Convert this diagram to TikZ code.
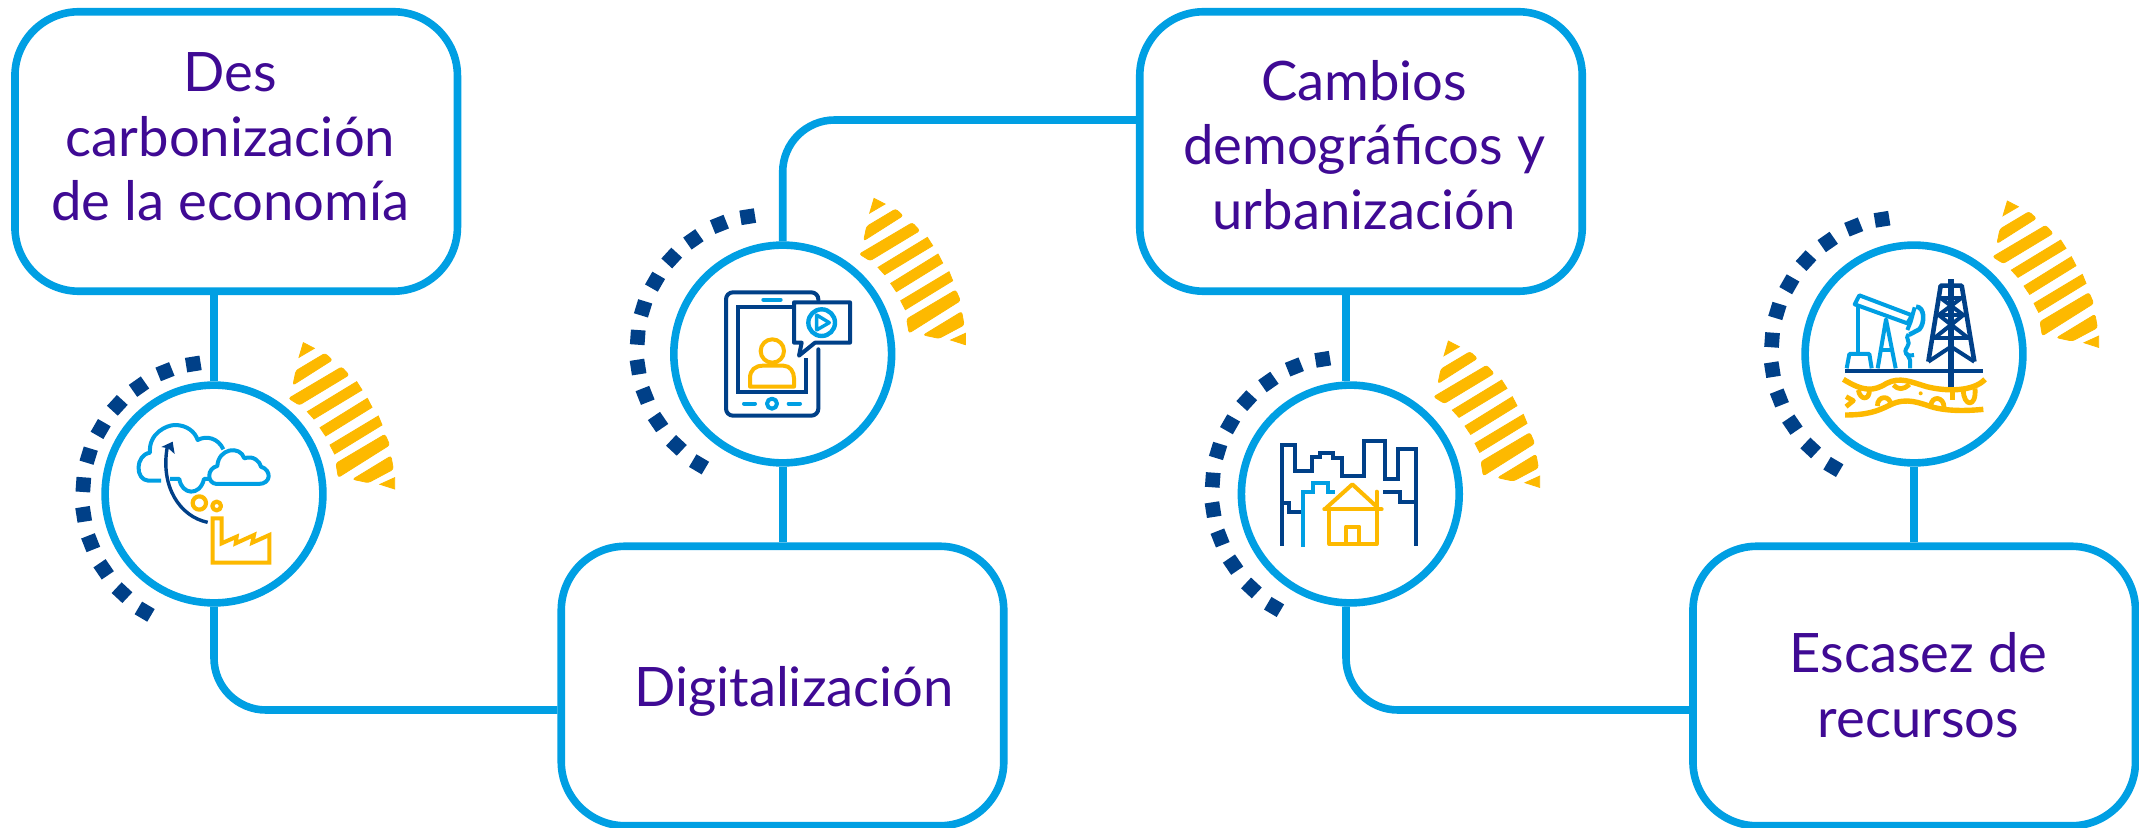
\documentclass[tikz,border=0pt]{standalone}
\usepackage{fontspec}
\setmainfont{Lato}
\definecolor{cblue}{HTML}{009FE3}
\definecolor{cnavy}{HTML}{004088}
\definecolor{cyel}{HTML}{FDB900}
\definecolor{cpur}{HTML}{3F0A94}
\tikzset{
  x=.5pt,y=-.5pt,
  boxn/.style={draw=cblue,line width=3.8pt,rounded corners=32pt,fill=white,minimum width=221.25pt,minimum height=139.75pt,inner sep=0pt},
  circn/.style={draw=cblue,line width=3.8pt,circle,fill=white,minimum size=108.9pt,inner sep=0pt},
  conn/.style={draw=cblue,line width=3.8pt},
  lab/.style={text=cpur,align=center,font=\fontsize{27.2}{32.2}\selectfont,inner sep=0pt},
  ib/.style={draw=cblue,line width=2pt},
  inav/.style={draw=cnavy,line width=2pt},
  iy/.style={draw=cyel,line width=2pt},
  hatchfill/.style={fill=cyel,draw=cyel,line width=.4pt},
}
\newcommand\ringdots[2]{%
  \begin{scope}[shift={(60+#1,330+#2)},scale=1/3]
    \foreach \px/\py in {400/102,315/125,237/170,172/226,122/297,86/377,70/464,71/553,92/638,131/718,186/788,254/845}{
      \pgfmathsetmacro\rr{atan2(\py-492,462-\px)}
      \fill[cnavy,shift={(\px,\py)},rotate=\rr] (-22,-22) rectangle (22,22);
    }
  \end{scope}}
\newcommand\hatchmark[2]{%
  \begin{scope}[shift={(60+#1,330+#2)},scale=1/3]
    \path[hatchfill] (730,38)--(763,55)--(717,82)--cycle;
    \path[hatchfill,rounded corners=1.2pt] (708,122)--(795,70)--(817,90)--(699,165)--cycle;
    \path[hatchfill,rounded corners=1.2pt] (686,205)--(845,111)--(867,135)--(718,225)--cycle;
    \path[hatchfill] (742,245)--(890,155)--(906,180)--(762,267)--cycle;
    \path[hatchfill] (780,293)--(922,205)--(936,232)--(797,318)--cycle;
    \path[hatchfill] (810,345)--(955,258)--(966,285)--(824,372)--cycle;
    \path[hatchfill,rounded corners=1.2pt] (828,400)--(975,313)--(989,345)--(835,442)--cycle;
    \path[hatchfill,rounded corners=1.2pt] (878,448)--(993,378)--(1000,418)--(925,458)--cycle;
    \path[hatchfill] (960,463)--(1004,443)--(1004,477)--cycle;
  \end{scope}}
\begin{document}
\begin{tikzpicture}
\useasboundingbox (0,0) rectangle (2139,828);
\fill[white] (0,0) rectangle (2139,828);
% boxes
\node[boxn] (b1) at (236.2,151.5) {};
\node[boxn] (b2) at (782.5,686) {};
\node[boxn] (b3) at (1361,151.5) {};
\node[boxn] (b4) at (1914.2,686) {};
% circles
\node[circn] (c1) at (214,494) {};
\node[circn] (c2) at (782.7,354) {};
\node[circn] (c3) at (1350.3,494) {};
\node[circn] (c4) at (1914,354) {};
\coordinate (yl) at (0,710);
\coordinate (yu) at (0,120);
\coordinate (j1) at (b2.west |- yl);
\coordinate (j2) at (b3.west |- yu);
\coordinate (j3) at (b4.west |- yl);
\coordinate (t3) at (1346,0);
% connectors
\draw[conn] (c1.north) -- (c1.north |- b1.south);
\draw[conn,rounded corners=26pt] (c1.south) |- (j1);
\draw[conn] (c2.south) -- (c2.south |- b2.north);
\draw[conn,rounded corners=26pt] (c2.north) |- (j2);
\draw[conn] (t3 |- c3.north) -- (t3 |- b3.south);
\draw[conn,rounded corners=26pt] (t3 |- c3.south) |- (j3);
\draw[conn] (c4.south) -- (c4.south |- b4.north);
% labels
\node[lab] (l1) at (230.5,137) {Des\\carbonización\\de la economía};
\node[lab] (l2) at (794,691) {Digitalización};
\node[lab] (l3) at (1364,145) {Cambios\\demográficos y\\urbanización};
\node[lab] (l4) at (1918.5,685) {Escasez de\\recursos};
% decorations
\ringdots{0}{0}\ringdots{554.4}{-147.3}\ringdots{1129.4}{-4.7}\ringdots{1688.7}{-144.7}
\hatchmark{0}{0}\hatchmark{570.7}{-144.3}\hatchmark{1145}{-1.6}\hatchmark{1704}{-141.6}
% icon 1
\begin{scope}[shift={(60,330)},scale=1/3,line join=round]
  \draw[ib] (303,452) -- (265,452) .. controls (225,450) and (225,375) .. (270,368) .. controls (265,310) and (320,285) .. (345,285) .. controls (380,285) and (405,305) .. (413,330) .. controls (440,315) and (475,325) .. (490,358);
  \draw[ib] (330,447) -- (358,447) .. controls (365,495) and (420,500) .. (432,447) -- (448,447);
  \draw[ib] (470,462) .. controls (440,460) and (440,415) .. (472,408) .. controls (475,355) and (540,345) .. (553,385) .. controls (580,375) and (600,395) .. (603,410) .. controls (635,420) and (635,462) .. (595,462) -- cycle;
  \draw[inav,line width=1.7pt] (443,577) .. controls (360,560) and (300,470) .. (322,350);
  \fill[cnavy] (304,351)--(338,335)--(344,372)--(325,355)--cycle;
  \draw[iy,line width=2.1pt] (418,519) circle (20);
  \draw[iy,line width=2.1pt] (470,528) circle (13);
  \draw[iy,line join=miter] (458,698)--(458,565)--(485,565)--(485,640)--(530,620)--(527,640)--(582,615)--(577,638)--(628,615)--(628,698)--cycle;
\end{scope}
% icon 2
\begin{scope}[shift={(620,190)},scale=1/3,line cap=round,line join=round]
  \draw[inav,rounded corners=3.5pt] (595,330)--(595,307)--(318,307)--(318,677)--(595,677)--(595,478);
  \draw[inav,line join=miter,line cap=butt] (520,352)--(354,352)--(354,607)--(557,607)--(557,505);
  \draw[ib] (430,329)--(482,329);
  \draw[inav] (522,337)--(690,337)--(690,458)--(585,458)--(537,497)--(545,458)--(522,458)--cycle;
  \draw[ib,line width=2.2pt] (605,398) circle (40);
  \draw[ib,line width=1.7pt] (590,375)--(628,398)--(590,420)--cycle;
  \draw[iy] (457,483) circle (35);
  \draw[iy] (390,590) -- (390,565) .. controls (390,540) and (405,527) .. (430,527) -- (490,527) .. controls (510,527) and (522,545) .. (522,565) -- (522,590) -- cycle;
  \draw[ib] (372,641)--(405,641);
  \draw[ib] (456,641) circle (15);
  \draw[ib] (506,641)--(540,641);
\end{scope}
% icon 3
\begin{scope}[shift={(1200,330)},scale=1/3,line join=miter]
  \draw[inav] (245,647)--(245,345)--(285,345)--(285,423)--(336,423)--(336,380)--(360,380)--(360,370)--(400,370)--(400,383)--(425,383)--(425,437)--(492,437)--(492,332)--(555,332)--(555,448)--(593,448)--(593,358)--(648,358)--(648,647);
  \draw[inav] (245,520)--(268,520)--(268,545)--(305,545);
  \draw[inav] (550,487)--(600,487)--(600,515)--(648,515);
  \draw[ib] (308,650)--(308,487)--(340,487)--(340,460)--(383,460)--(383,487)--(405,487);
  \begin{scope}[line cap=round,line join=round]
  \draw[iy] (375,537)--(457,463)--(530,530);
  \draw[iy] (530,485)--(530,530);
  \draw[iy] (373,538)--(545,538);
  \draw[iy] (388,538)--(388,642)--(530,642)--(530,538);
  \draw[iy] (438,642)--(438,590)--(478,590)--(478,642);
  \end{scope}
\end{scope}
% icon 4
\begin{scope}[shift={(1760,190)},scale=1/3,line join=round]
  \draw[ib] (284,343)--(298,316)--(456,376)--(442,400)--cycle;
  \draw[ib,line width=2.3pt] (468,350) .. controls (495,350) and (495,400) .. (478,418) -- (448,434);
  \draw[ib] (464,352)--(452,395)--(442,420);
  \draw[ib] (446,432) .. controls (432,445) and (455,455) .. (442,470) .. controls (428,490) and (440,500) .. (462,495);
  \draw[ib] (440,490)--(450,510)--(450,535);
  \draw[ib] (295,345)--(295,490);
  \draw[ib] (260,535)--(268,492)--(328,492)--(335,535);
  \draw[ib] (353,535)--(378,388)--(407,535);
  \draw[ib] (362,480)--(398,480);
  \draw[inav,line width=2.1pt] (255,542)--(670,542);
  \draw[inav,line width=2.3pt] (505,515)--(542,287)--(605,287)--(643,515);
  \draw[inav,line width=2.6pt] (573,268)--(573,592);
  \draw[inav] (536,325)--(610,325) (530,375)--(618,375) (520,445)--(628,445);
  \draw[inav] (543,325)--(610,375)--(522,445) (603,325)--(536,375)--(626,445);
  \draw[inav] (505,515)--(573,470)--(643,515);
  \draw[iy,line width=2.7pt] (250,568) .. controls (310,605) and (340,605) .. (380,580) .. controls (420,560) and (450,575) .. (500,590) .. controls (560,605) and (640,605) .. (675,568);
  \draw[iy,line width=2.7pt] (255,675) .. controls (320,675) and (350,665) .. (390,645) .. controls (440,620) and (480,640) .. (520,652) .. controls (570,665) and (630,662) .. (670,658);
  \draw[iy,line width=2.4pt] (352,648) .. controls (352,615) and (392,615) .. (392,645);
  \draw[iy,line width=2.4pt] (512,648) .. controls (515,615) and (552,620) .. (552,652);
  \draw[iy,line width=2.4pt] (610,600) .. controls (610,650) and (650,655) .. (645,595);
  \draw[iy,line width=2.4pt] (295,600) .. controls (300,632) and (330,632) .. (328,598);
  \draw[iy,line width=2.4pt] (258,620)--(280,632)--(258,650);
  \draw[iy,line width=2.4pt] (400,585) .. controls (415,600) and (430,600) .. (448,583);
  \draw[iy,line width=2.4pt] (578,600)--(578,630);
  \fill[cyel] (482,610) circle (6);
\end{scope}
\end{tikzpicture}
\end{document}
